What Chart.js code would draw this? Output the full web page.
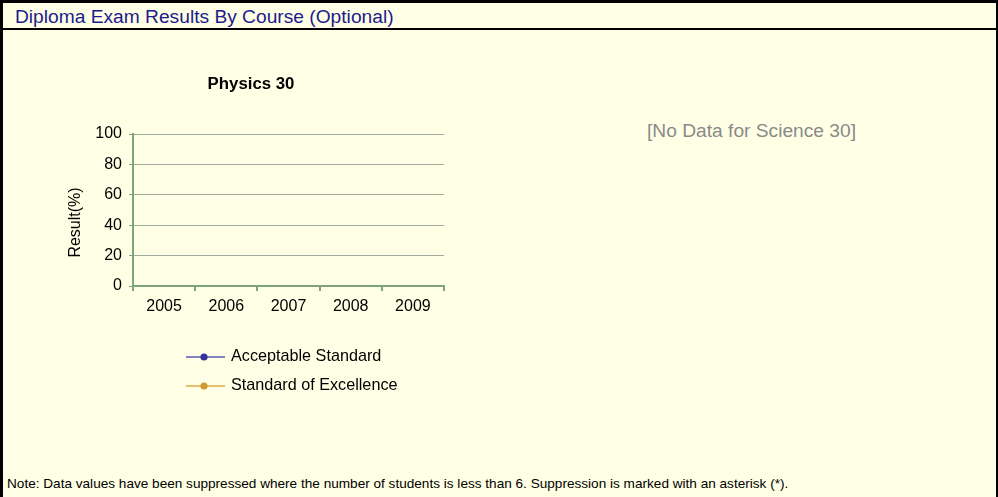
<!DOCTYPE html>
<html>
<head>
<meta charset="utf-8">
<script src="https://cdn.jsdelivr.net/npm/chart.js@4/dist/chart.umd.min.js"></script>
<style>
  html, body { margin: 0; padding: 0; background: #FFFFE5; overflow: hidden; width: 998px; height: 497px; }
  .abs { position: absolute; }
  .txt { font-family: "Liberation Sans", Arial, sans-serif; white-space: nowrap; }
  #bTop { left: 0; top: 0; width: 998px; height: 3px; background: #000; }
  #bLeft { left: 0; top: 0; width: 3px; height: 497px; background: #000; }
  #bRight { left: 996px; top: 0; width: 2px; height: 497px; background: #000; }
  #bSep { left: 0; top: 28px; width: 998px; height: 2px; background: #000; }
  #hdr { left: 15px; top: 5px; font-size: 19.2px; line-height: 24px; color: #1C1C8E; }
  #nodata { left: 647px; top: 119px; font-size: 19.2px; line-height: 24px; color: #8A8A8A; }
  #note { left: 7px; top: 476px; font-size: 13.6px; line-height: 16px; color: #000; }
  #chartBox { left: 58px; top: 60px; width: 440px; height: 350px; }
</style>
</head>
<body>
<div class="abs" id="bTop"></div>
<div class="abs" id="bLeft"></div>
<div class="abs" id="bRight"></div>
<div class="abs" id="bSep"></div>
<div class="abs txt" id="hdr">Diploma Exam Results By Course (Optional)</div>
<div class="abs txt" id="nodata">[No Data for Science 30]</div>
<div class="abs txt" id="note">Note: Data values have been suppressed where the number of students is less than 6. Suppression is marked with an asterisk (*).</div>
<div class="abs" id="chartBox"><canvas id="c" width="440" height="350"></canvas></div>
<script>
// ---- data ----
const years = ['2005', '2006', '2007', '2008', '2009'];
const acceptableStandard = [null, null, null, null, null];
const standardOfExcellence = [null, null, null, null, null];
const yTicks = [0, 20, 40, 60, 80, 100];
const seriesNames = ['Acceptable Standard', 'Standard of Excellence'];
const chartTitle = 'Physics 30';
const yAxisTitle = 'Result(%)';

// ---- styles ----
const seriesColors = ['#333399', '#CC9933'];
const seriesLineColors = ['#5A5AB8', '#DDAA44'];
const axisColor = '#7FA37F';
const gridColor = '#A0AA9C';
const FONT = '"Liberation Sans", Arial, sans-serif';

Chart.defaults.font.family = FONT;

const yTitlePlugin = {
  id: 'yTitle',
  afterDraw(chart) {
    const ctx = chart.ctx, a = chart.chartArea, s = chart.scales.y;
    ctx.save();
    ctx.translate(s.left + 18, (a.top + a.bottom) / 2 + 12.5);
    ctx.rotate(-Math.PI / 2);
    ctx.font = '16px ' + FONT;
    ctx.fillStyle = '#000';
    ctx.textAlign = 'center';
    ctx.textBaseline = 'middle';
    ctx.fillText(yAxisTitle, 0, 0);
    ctx.restore();
  }
};

const lineLegendPlugin = {
  id: 'lineLegend',
  afterDraw(chart) {
    const ctx = chart.ctx, a = chart.chartArea;
    const x0 = a.left + 53, y0 = a.bottom + 71, step = 29;
    chart.data.datasets.forEach((ds, i) => {
      const y = y0 + i * step;
      ctx.save();
      ctx.strokeStyle = seriesLineColors[i];
      ctx.lineWidth = 1.5;
      ctx.beginPath();
      ctx.moveTo(x0, y);
      ctx.lineTo(x0 + 39, y);
      ctx.stroke();
      ctx.fillStyle = ds.borderColor;
      ctx.beginPath();
      ctx.arc(x0 + 18, y, 3.6, 0, Math.PI * 2);
      ctx.fill();
      ctx.fillStyle = '#000';
      ctx.font = '16.2px ' + FONT;
      ctx.textAlign = 'left';
      ctx.textBaseline = 'middle';
      ctx.fillText(ds.label, x0 + 45, y);
      ctx.restore();
    });
  }
};

new Chart(document.getElementById('c'), {
  type: 'line',
  data: {
    labels: years,
    datasets: [
      { label: seriesNames[0], data: acceptableStandard, borderColor: seriesColors[0], backgroundColor: seriesColors[0], pointRadius: 4, borderWidth: 2 },
      { label: seriesNames[1], data: standardOfExcellence, borderColor: seriesColors[1], backgroundColor: seriesColors[1], pointRadius: 4, borderWidth: 2 }
    ]
  },
  options: {
    responsive: false,
    animation: false,
    devicePixelRatio: 1,
    layout: { padding: { left: 0, right: 54, top: 0, bottom: 84 } },
    plugins: {
      legend: { display: false },
      tooltip: { enabled: false },
      title: {
        display: true,
        text: chartTitle,
        color: '#000',
        font: { size: 16.8, weight: 'bold', lineHeight: 1.2 },
        padding: { top: 14, bottom: 39.84 }
      }
    },
    scales: {
      x: {
        type: 'category',
        offset: true,
        grid: { offset: true, drawOnChartArea: false, drawTicks: true, tickLength: 5, tickColor: axisColor, color: axisColor, lineWidth: 2 },
        border: { color: axisColor, width: 2 },
        ticks: { color: '#000', font: { size: 16 }, padding: 6, maxRotation: 0, autoSkip: false },
        afterFit(s) { s.height = 40; }
      },
      y: {
        min: yTicks[0],
        max: yTicks[yTicks.length - 1],
        ticks: { stepSize: yTicks[1] - yTicks[0], color: '#000', font: { size: 16 }, padding: 7 },
        grid: { color: gridColor, lineWidth: 1, tickLength: 4, tickColor: axisColor },
        border: { color: axisColor, width: 2 },
        afterFit(s) { s.width = 75; }
      }
    }
  },
  plugins: [yTitlePlugin, lineLegendPlugin]
});
</script>
</body>
</html>
